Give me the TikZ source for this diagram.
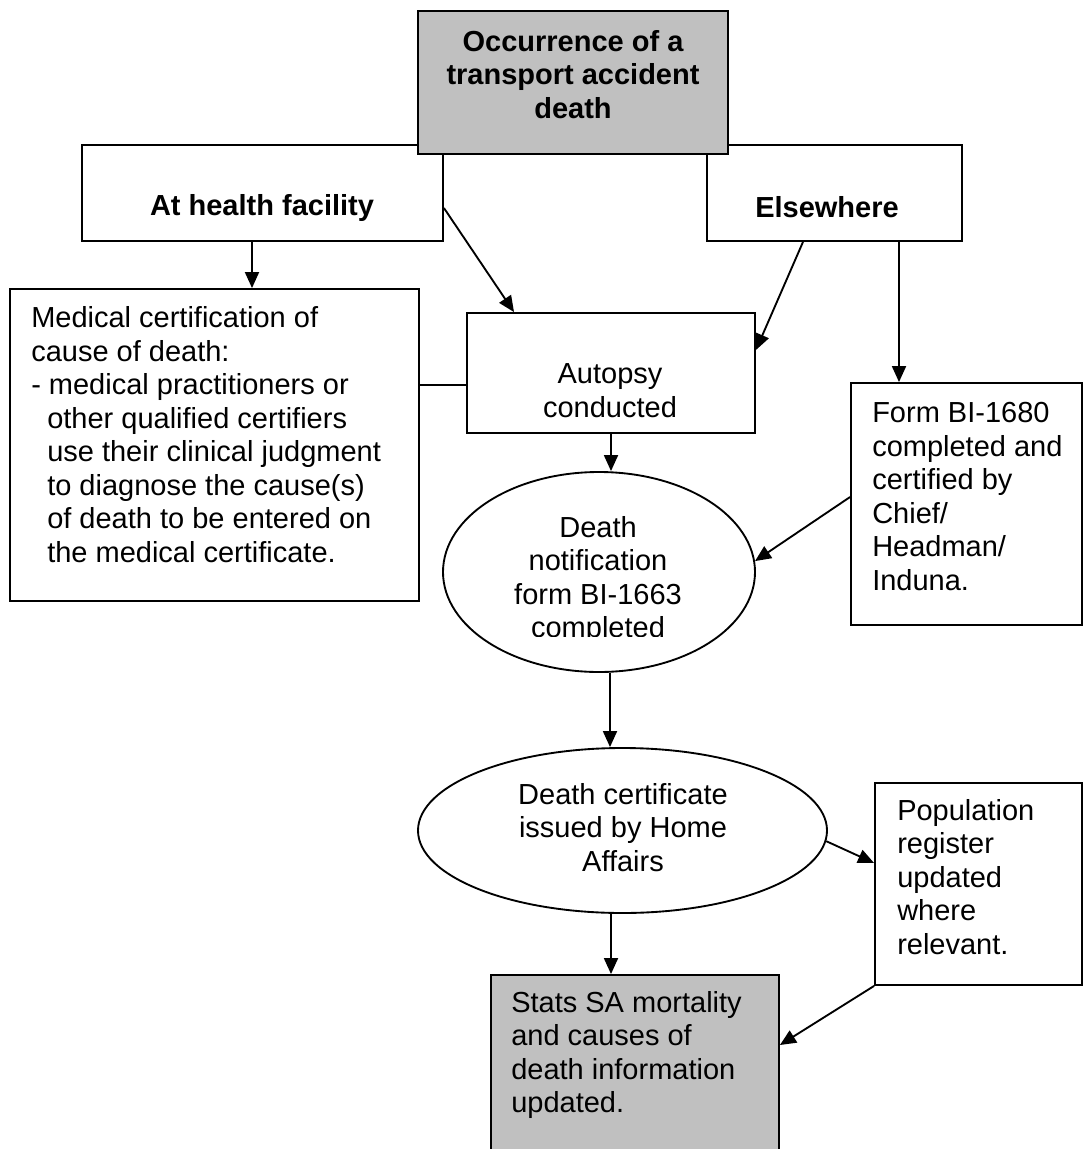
\documentclass[tikz,border=0pt]{standalone}
\usepackage{fontspec}
\setmainfont{Liberation Sans}
\usetikzlibrary{arrows.meta,shapes.geometric}
\definecolor{boxgray}{HTML}{C0C0C0}
\tikzset{
  box/.style={draw, line width=1.4pt, inner sep=0pt, rectangle},
  oval/.style={draw, line width=1.4pt, inner sep=0pt, ellipse},
  txt/.style={inner sep=0pt, font=\fontsize{21.75}{25.1}\selectfont},
  btxt/.style={inner sep=0pt, font=\fontsize{21.75}{25.1}\selectfont\bfseries},
  conn/.style={line width=1.4pt, -{Triangle[length=12pt,width=10.5pt]}},
  plainline/.style={line width=1.4pt},
}
\begin{document}
\begin{tikzpicture}[x=0.75pt,y=-0.75pt]
\clip (0,0) rectangle (1084,1149);
\fill[white] (0,0) rectangle (1084,1149);
% boxes
\node[box, minimum width=270.75pt, minimum height=72pt] (health) at (262.5,193) {};
\node[box, minimum width=191.25pt, minimum height=72pt] (else) at (834.5,193) {};
\node[box, fill=boxgray, minimum width=232.5pt, minimum height=107.25pt] (occ) at (573,82.5) {};
\node[box, minimum width=306.75pt, minimum height=234pt] (medical) at (214.5,445) {};
\node[box, minimum width=216pt, minimum height=90pt] (autopsy) at (611,373) {};
\node[box, minimum width=173.25pt, minimum height=181.5pt] (form) at (966.5,504) {};
\node[oval, minimum width=234pt, minimum height=150pt] (notif) at (599,572) {};
\node[oval, minimum width=306.75pt, minimum height=123.75pt] (cert) at (622.5,830.5) {};
\node[box, minimum width=155.25pt, minimum height=151.5pt] (pop) at (978.5,884) {};
\node[box, fill=boxgray, minimum width=216pt, minimum height=142.5pt] (stats) at (635,1070) {};
% texts
\node[btxt, align=center] (occt) at (573,74.5) {Occurrence of a\\transport accident\\death};
\node[btxt] (healtht) at (262,208) {At health facility};
\node[btxt] (elset) at (827,207) {Elsewhere};
\node[txt, align=left, anchor=west] (medicalt) at (31,434.5) {Medical certification of\\cause of death:\\- medical practitioners or\\\hspace*{12pt}other qualified certifiers\\\hspace*{12pt}use their clinical judgment\\\hspace*{12pt}to diagnose the cause(s)\\\hspace*{12pt}of death to be entered on\\\hspace*{12pt}the medical certificate.};
\node[txt, align=center] (autopsyt) at (610,390.5) {Autopsy\\conducted};
\begin{scope}
\clip (443,472) rectangle (755,636);
\node[txt, align=center] (notift) at (598,580) {Death\\notification\\form BI-1663\\completed};
\end{scope}
\node[txt, align=left, anchor=west] (formt) at (872,496.5) {Form BI-1680\\completed and\\certified by\\Chief/\\Headman/\\Induna.};
\node[txt, align=center] (certt) at (623,827.5) {Death certificate\\issued by Home\\Affairs};
\node[txt, align=left, anchor=west] (popt) at (897,877) {Population\\register\\updated\\where\\relevant.};
\node[txt, align=left, anchor=west] (statst) at (511,1055) {Stats SA mortality\\and causes of\\death information\\updated.};
% connectors
\draw[conn] ([xshift=-7.875pt]health.south) -- ([xshift=28.125pt]medical.north);
\draw[conn] ([yshift=-11.25pt]health.east) -- ([xshift=-72.75pt]autopsy.north);
\draw[conn] ([xshift=-23.625pt]else.south) -- ([yshift=17.25pt]autopsy.east);
\draw[conn] ([xshift=48.375pt]else.south) -- ([xshift=-50.625pt]form.north);
\draw[plainline] ([yshift=45pt]medical.east) -- ([yshift=-9pt]autopsy.west);
\draw[conn] (autopsy.south) -- ([xshift=9pt]notif.north);
\draw[conn] ([yshift=5.25pt]form.west) -- (notif.4);
\draw[conn] ([xshift=8.25pt]notif.south) -- ([xshift=-9.375pt]cert.north);
\draw[conn] (cert.-3) -- ([yshift=15.75pt]pop.west);
\draw[conn] ([xshift=-8.625pt]cert.south) -- ([xshift=-18pt]stats.north);
\draw[conn] (pop.south west) -- ([yshift=18.75pt]stats.east);
\end{tikzpicture}
\end{document}
